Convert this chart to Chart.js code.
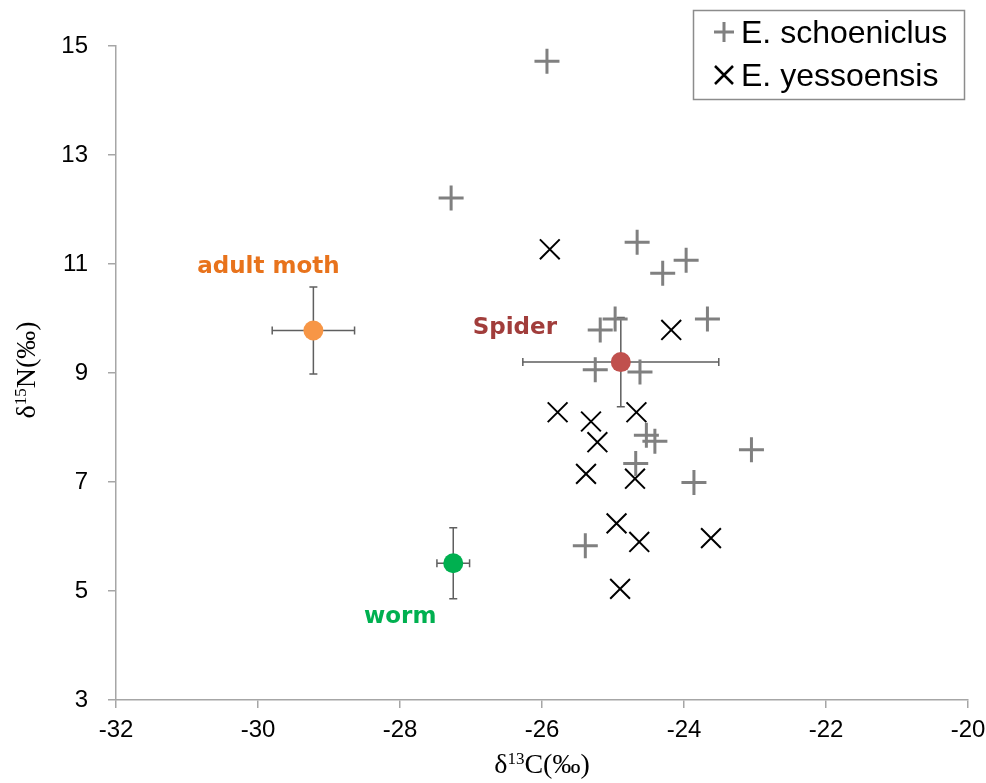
<!DOCTYPE html>
<html>
<head>
<meta charset="utf-8">
<script src="https://cdn.jsdelivr.net/npm/chart.js@4/dist/chart.umd.min.js"></script>
<style>
  html, body { margin: 0; padding: 0; background: #ffffff; }
  canvas { display: block; }
</style>
</head>
<body>
<canvas id="chart" width="986" height="783"></canvas>
<script>
// Stable isotope values (δ13C, δ15N) of two bunting species and their prey items

// E. schoeniclus samples
const schoeniclusC = [-25.93, -27.28, -24.66, -23.97, -24.30, -23.67, -24.97, -25.18, -25.25, -24.62, -24.53, -24.41, -23.05, -24.68, -23.86, -25.39];
const schoeniclusN = [14.72, 12.21, 11.40, 11.07, 10.83, 9.99, 9.99, 9.79, 9.06, 9.02, 7.86, 7.75, 7.59, 7.34, 6.99, 5.83];

// E. yessoensis samples
const yessoensisC = [-25.89, -24.18, -25.78, -25.31, -24.67, -25.22, -25.38, -24.69, -24.95, -24.63, -23.62, -24.90];
const yessoensisN = [11.27, 9.79, 8.28, 8.11, 8.28, 7.73, 7.15, 7.06, 6.24, 5.90, 5.97, 5.04];

// Prey items: mean ± SD
const preyNames = ['adult moth', 'Spider', 'worm'];
const preyC = [-29.22, -24.89, -27.25];
const preyN = [9.78, 9.20, 5.51];
const preyCsd = [0.58, 1.38, 0.23];
const preyNsd = [0.80, 0.82, 0.65];

// Axis ticks
const xTicks = [-32, -30, -28, -26, -24, -22, -20];
const yTicks = [3, 5, 7, 9, 11, 13, 15];

const seriesNames = ['E. schoeniclus', 'E. yessoensis'];

const preyFill = ['#F79646', '#C0504D', '#00B050'];
const preyText = ['#E8731C', '#A13D3B', '#00B050'];
// label placement relative to each prey mean (px)
const preyLabelOffset = [[-45, -57], [-106, -28], [-53, 60]];

const toPoints = (xs, ys) => xs.map((v, i) => ({ x: v, y: ys[i] }));

// Error bars (mean ± SD) drawn underneath the markers
const errorBars = {
  id: 'errorBars',
  beforeDatasetsDraw(chart) {
    const { ctx, scales: { x, y } } = chart;
    ctx.save();
    ctx.strokeStyle = '#5f5f5f';
    ctx.lineWidth = 1.5;
    const cap = 4;
    preyC.forEach((c, i) => {
      const px = x.getPixelForValue(c);
      const py = y.getPixelForValue(preyN[i]);
      const x0 = x.getPixelForValue(c - preyCsd[i]);
      const x1 = x.getPixelForValue(c + preyCsd[i]);
      const y0 = y.getPixelForValue(preyN[i] - preyNsd[i]);
      const y1 = y.getPixelForValue(preyN[i] + preyNsd[i]);
      ctx.beginPath();
      ctx.moveTo(x0, py); ctx.lineTo(x1, py);
      ctx.moveTo(x0, py - cap); ctx.lineTo(x0, py + cap);
      ctx.moveTo(x1, py - cap); ctx.lineTo(x1, py + cap);
      ctx.moveTo(px, y0); ctx.lineTo(px, y1);
      ctx.moveTo(px - cap, y0); ctx.lineTo(px + cap, y0);
      ctx.moveTo(px - cap, y1); ctx.lineTo(px + cap, y1);
      ctx.stroke();
    });
    ctx.restore();
  }
};

// Prey name labels
const preyLabels = {
  id: 'preyLabels',
  afterDatasetsDraw(chart) {
    const { ctx, scales: { x, y } } = chart;
    ctx.save();
    ctx.font = 'bold 23px "DejaVu Sans", sans-serif';
    ctx.textAlign = 'center';
    ctx.textBaseline = 'alphabetic';
    preyNames.forEach((name, i) => {
      const px = x.getPixelForValue(preyC[i]) + preyLabelOffset[i][0];
      const py = y.getPixelForValue(preyN[i]) + preyLabelOffset[i][1];
      ctx.fillStyle = preyText[i];
      ctx.fillText(name, px, py);
    });
    ctx.restore();
  }
};

// Boxed legend in the upper right corner
const boxLegend = {
  id: 'boxLegend',
  afterDraw(chart) {
    const { ctx } = chart;
    const bx = 693.5, by = 10.5, bw = 271, bh = 89;
    ctx.save();
    ctx.fillStyle = '#ffffff';
    ctx.fillRect(bx, by, bw, bh);
    ctx.strokeStyle = '#8c8c8c';
    ctx.lineWidth = 1.5;
    ctx.strokeRect(bx, by, bw, bh);

    const mx = 724;
    const rows = [32, 75];
    // + symbol
    ctx.strokeStyle = '#808080';
    ctx.lineWidth = 3;
    ctx.beginPath();
    ctx.moveTo(mx - 10, rows[0]); ctx.lineTo(mx + 10, rows[0]);
    ctx.moveTo(mx, rows[0] - 10); ctx.lineTo(mx, rows[0] + 10);
    ctx.stroke();
    // × symbol
    ctx.strokeStyle = '#000000';
    ctx.lineWidth = 2.5;
    ctx.beginPath();
    ctx.moveTo(mx - 9, rows[1] - 9); ctx.lineTo(mx + 9, rows[1] + 9);
    ctx.moveTo(mx + 9, rows[1] - 9); ctx.lineTo(mx - 9, rows[1] + 9);
    ctx.stroke();

    ctx.fillStyle = '#000000';
    ctx.font = '32px "Liberation Sans", Arial, sans-serif';
    ctx.textAlign = 'left';
    ctx.textBaseline = 'alphabetic';
    seriesNames.forEach((name, i) => {
      ctx.fillText(name, 741, rows[i] + 11);
    });
    ctx.restore();
  }
};

// Axis titles with superscript mass numbers
const axisTitles = {
  id: 'axisTitles',
  afterDraw(chart) {
    const { ctx, chartArea } = chart;
    const big = '28px "Liberation Serif", "Times New Roman", serif';
    const small = '17px "Liberation Serif", "Times New Roman", serif';
    const drawTitle = (pre, sup, post) => {
      ctx.font = big;
      const w1 = ctx.measureText(pre).width;
      const w3 = ctx.measureText(post).width;
      ctx.font = small;
      const w2 = ctx.measureText(sup).width;
      const total = w1 + w2 + w3;
      let cx = -total / 2;
      ctx.font = big;
      ctx.fillText(pre, cx, 0); cx += w1;
      ctx.font = small;
      ctx.fillText(sup, cx, -9); cx += w2;
      ctx.font = big;
      ctx.fillText(post, cx, 0);
    };
    ctx.save();
    ctx.fillStyle = '#000000';
    ctx.textAlign = 'left';
    ctx.textBaseline = 'alphabetic';
    ctx.translate((chartArea.left + chartArea.right) / 2, 773);
    drawTitle('δ', '13', 'C(‰)');
    ctx.restore();

    ctx.save();
    ctx.fillStyle = '#000000';
    ctx.textAlign = 'left';
    ctx.textBaseline = 'alphabetic';
    ctx.translate(35, (chartArea.top + chartArea.bottom) / 2 - 3);
    ctx.rotate(-Math.PI / 2);
    drawTitle('δ', '15', 'N(‰)');
    ctx.restore();
  }
};

const axisColor = '#a6a6a6';
const tickFont = { family: '"Liberation Sans", Arial, sans-serif', size: 24 };

new Chart(document.getElementById('chart'), {
  type: 'scatter',
  data: {
    datasets: [
      {
        label: 'prey',
        data: toPoints(preyC, preyN),
        backgroundColor: preyFill,
        borderWidth: 0,
        pointRadius: 10,
        pointStyle: 'circle',
        order: 0
      },
      {
        label: seriesNames[0],
        data: toPoints(schoeniclusC, schoeniclusN),
        pointStyle: 'cross',
        pointRadius: 12.5,
        borderColor: '#808080',
        backgroundColor: '#808080',
        borderWidth: 3,
        order: 1
      },
      {
        label: seriesNames[1],
        data: toPoints(yessoensisC, yessoensisN),
        pointStyle: 'crossRot',
        pointRadius: 14,
        borderColor: '#000000',
        backgroundColor: '#000000',
        borderWidth: 2,
        order: 2
      }
    ]
  },
  options: {
    responsive: false,
    animation: false,
    events: [],
    layout: { padding: { top: 46, right: 18, bottom: 0, left: 0 } },
    plugins: {
      legend: { display: false },
      tooltip: { enabled: false },
      title: { display: false }
    },
    scales: {
      x: {
        type: 'linear',
        min: xTicks[0],
        max: xTicks[xTicks.length - 1],
        afterBuildTicks(scale) { scale.ticks = xTicks.map(v => ({ value: v })); },
        afterFit(scale) {
          scale.height = 83;
          scale.paddingLeft = 0;
          scale.paddingRight = 0;
        },
        grid: { drawOnChartArea: false, drawTicks: true, tickLength: 8, color: axisColor, lineWidth: 1.5 },
        border: { display: true, color: axisColor, width: 1.5 },
        ticks: { font: tickFont, color: '#000000', padding: 8, maxRotation: 0 }
      },
      y: {
        type: 'linear',
        min: yTicks[0],
        max: yTicks[yTicks.length - 1],
        afterBuildTicks(scale) { scale.ticks = yTicks.map(v => ({ value: v })); },
        afterFit(scale) {
          scale.width = 116;
          scale.paddingTop = 0;
          scale.paddingBottom = 0;
        },
        grid: { drawOnChartArea: false, drawTicks: true, tickLength: 8, color: axisColor, lineWidth: 1.5 },
        border: { display: true, color: axisColor, width: 1.5 },
        ticks: { font: tickFont, color: '#000000', padding: 20 }
      }
    }
  },
  plugins: [errorBars, preyLabels, boxLegend, axisTitles]
});
</script>
</body>
</html>
